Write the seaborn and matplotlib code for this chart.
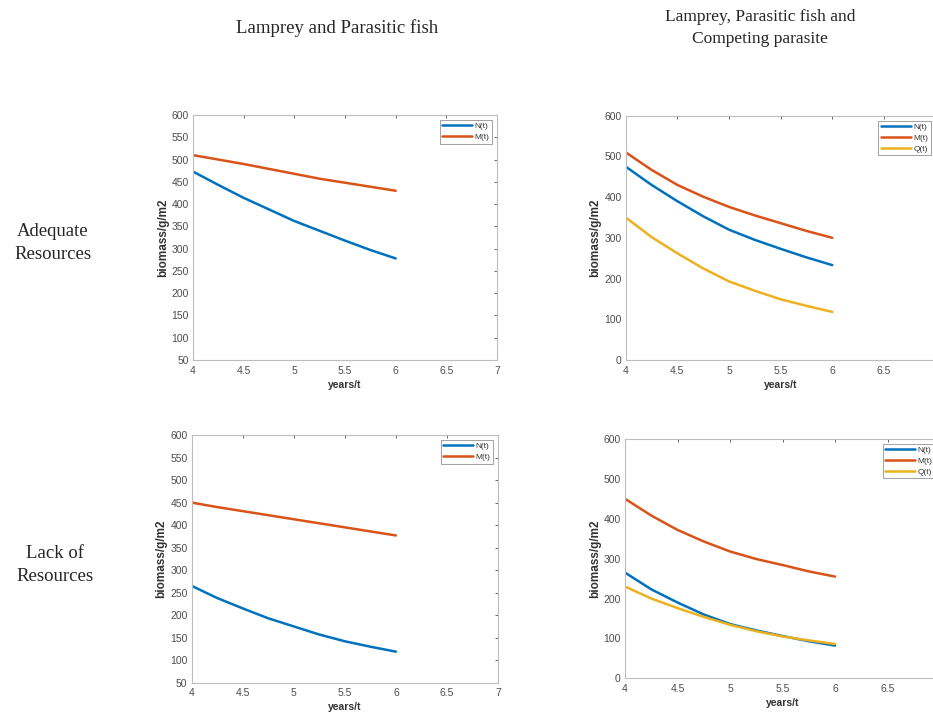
import seaborn as sns
import matplotlib.pyplot as plt
import pandas as pd
import numpy as np

# ----------- DATA -----------
years = [4.0, 4.25, 4.5, 4.75, 5.0, 5.25, 5.5, 5.75, 6.0]

# adequate resources, lamprey + parasitic fish
ad2_N = [473, 443, 414, 388, 362, 340, 318, 297, 278]
ad2_M = [510, 500, 490, 479, 468, 457, 448, 439, 430]

# adequate resources, with competing parasite
ad3_N = [475, 430, 390, 353, 320, 295, 273, 252, 233]
ad3_M = [510, 467, 430, 401, 376, 355, 336, 317, 300]
ad3_Q = [350, 302, 262, 225, 193, 170, 149, 133, 118]

# lack of resources, lamprey + parasitic fish
lk2_N = [265, 238, 215, 193, 175, 157, 142, 130, 119]
lk2_M = [450, 440, 431, 422, 413, 404, 395, 386, 377]

# lack of resources, with competing parasite
lk3_N = [265, 223, 190, 160, 136, 120, 106, 93, 82]
lk3_M = [450, 408, 372, 343, 318, 299, 284, 268, 255]
lk3_Q = [230, 200, 176, 154, 134, 118, 105, 95, 86]

col_titles = ["Lamprey and Parasitic fish", "Lamprey, Parasitic fish and\nCompeting parasite"]
row_titles = ["Adequate\nResources", "Lack of\nResources"]
x_ticks = [4, 4.5, 5, 5.5, 6, 6.5, 7]
x_labels_full = ["4", "4.5", "5", "5.5", "6", "6.5", "7"]
x_labels_cut = ["4", "4.5", "5", "5.5", "6", "6.5", ""]   # right column runs off the page

# matlab default colours
colors = {"N(t)": "#0072BD", "M(t)": "#D95319", "Q(t)": "#EDB120"}

sns.set_style("white")
plt.rcParams["font.family"] = ["Liberation Sans", "DejaVu Sans"]

fig = plt.figure(figsize=(9.33, 7.14), dpi=100)

panels = [
    # (rect, series, y ticks, x labels)
    ([0.2069, 0.4958, 0.3258, 0.3431], {"N(t)": ad2_N, "M(t)": ad2_M},
     list(range(50, 601, 50)), x_labels_full),
    ([0.6706, 0.4958, 0.3322, 0.3422], {"N(t)": ad3_N, "M(t)": ad3_M, "Q(t)": ad3_Q},
     list(range(0, 601, 100)), x_labels_cut),
    ([0.2055, 0.0438, 0.3283, 0.3469], {"N(t)": lk2_N, "M(t)": lk2_M},
     list(range(50, 601, 50)), x_labels_full),
    ([0.6699, 0.0500, 0.3376, 0.3352], {"N(t)": lk3_N, "M(t)": lk3_M, "Q(t)": lk3_Q},
     list(range(0, 601, 100)), x_labels_cut),
]

for rect, series, yt, xl in panels:
    ax = fig.add_axes(rect)
    df = pd.DataFrame({"t": years, **series}).melt(id_vars="t", var_name="var", value_name="val")
    sns.lineplot(data=df, x="t", y="val", hue="var", palette=colors, linewidth=1.8, ax=ax)
    ax.set_xlim(4, 7)
    ax.set_ylim(yt[0], yt[-1])
    ax.set_xticks(x_ticks)
    ax.set_xticklabels(xl)
    ax.set_yticks(yt)
    ax.tick_params(direction="in", length=2.5, width=0.6, colors="#4d4d4d",
                   labelsize=7.5, top=True, right=True, pad=3)
    ax.tick_params(axis="x", pad=4)
    for s in ax.spines.values():
        s.set_color("#bdbdbd")
        s.set_linewidth(0.8)
    ax.set_xlabel("years/t", fontsize=7.5, fontweight="bold", color="#333333", labelpad=3)
    ax.set_ylabel("biomass/g/m2", fontsize=8.5, fontweight="bold", color="#333333", labelpad=2)
    leg = ax.legend(loc="upper right", fontsize=6, frameon=True, fancybox=False,
                    handlelength=3.6, handletextpad=0.3, borderpad=0.3,
                    labelspacing=0.35, borderaxespad=0.6)
    leg.get_frame().set_edgecolor("#777777")
    leg.get_frame().set_linewidth(0.6)
    for t in leg.get_texts():
        t.set_color("#333333")

serif = ["Liberation Serif", "DejaVu Serif"]
fig.text(337 / 933, 1 - 28 / 714, col_titles[0], ha="center", va="center",
         fontsize=13.5, family=serif)
fig.text(760 / 933, 1 - 28 / 714, col_titles[1], ha="center", va="center",
         fontsize=12.5, family=serif, linespacing=1.55)
fig.text(53 / 933, 1 - 243 / 714, row_titles[0], ha="center", va="center",
         fontsize=13.5, family=serif, linespacing=1.4)
fig.text(55 / 933, 1 - 565 / 714, row_titles[1], ha="center", va="center",
         fontsize=13.5, family=serif, linespacing=1.4)

fig.savefig("out.png", dpi=100)
